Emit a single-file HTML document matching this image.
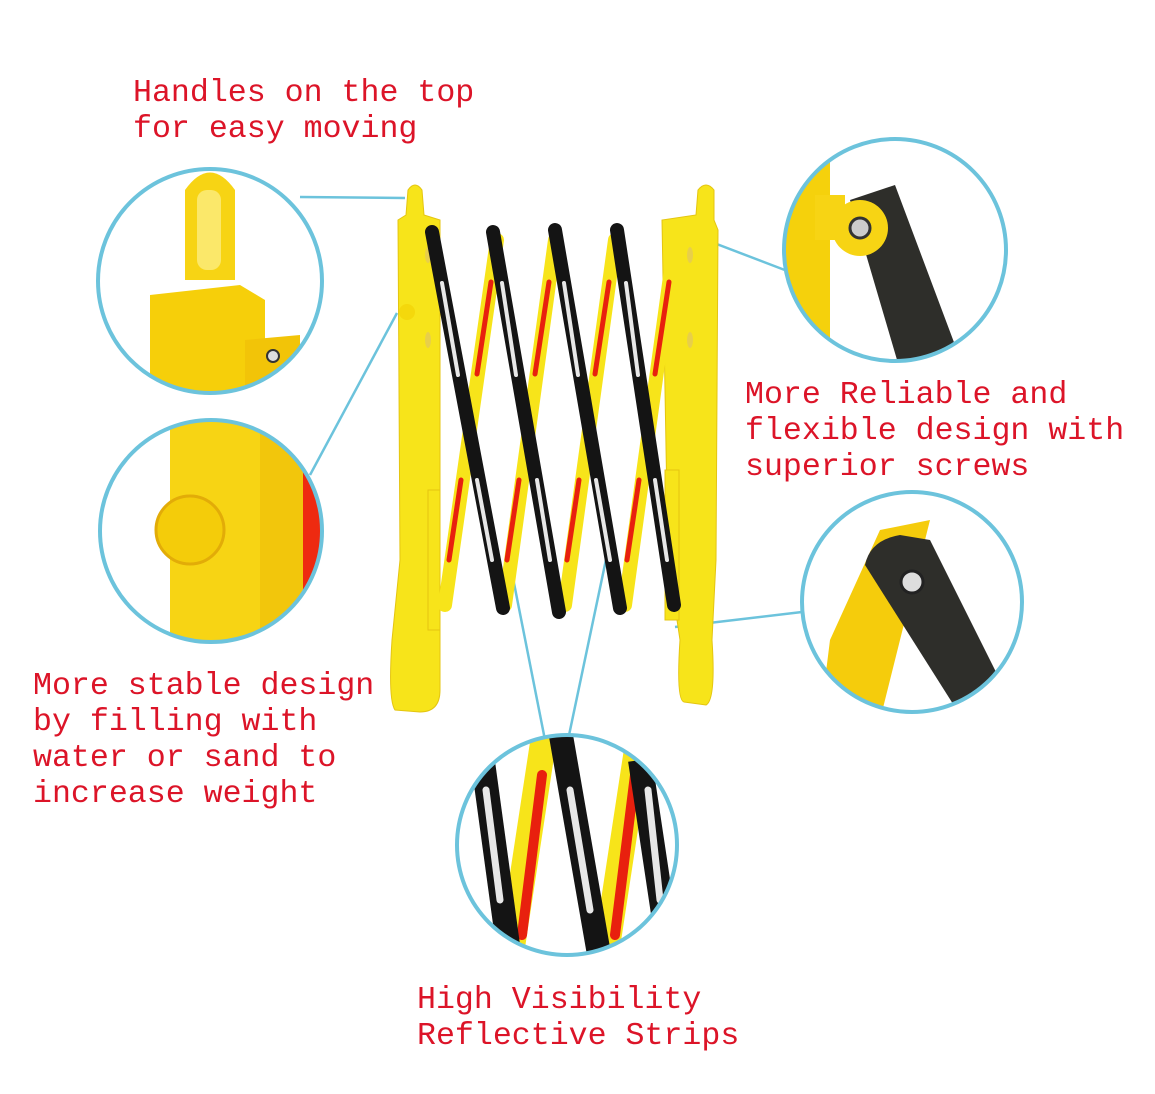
<!DOCTYPE html>
<html><head><meta charset="utf-8"><style>
html,body{margin:0;padding:0;background:#fff}
svg{display:block}
text{font-family:"Liberation Mono","DejaVu Sans Mono",monospace;font-size:31.6px;fill:#dc1428}
</style></head><body>
<svg width="1155" height="1094" viewBox="0 0 1155 1094" xmlns="http://www.w3.org/2000/svg">
<defs>
<clipPath id="c1"><circle cx="210" cy="281" r="112"/></clipPath>
<clipPath id="c2"><circle cx="211" cy="531" r="111"/></clipPath>
<clipPath id="c3"><circle cx="895" cy="250" r="111"/></clipPath>
<clipPath id="c4"><circle cx="912" cy="602" r="110"/></clipPath>
<clipPath id="c5"><circle cx="567" cy="845" r="110"/></clipPath>
</defs>

<text x="133" y="101">Handles on the top</text>
<text x="133" y="137">for easy moving</text>
<text x="745" y="403">More Reliable and</text>
<text x="745" y="439">flexible design with</text>
<text x="745" y="475">superior screws</text>
<text x="33" y="694">More stable design</text>
<text x="33" y="730">by filling with</text>
<text x="33" y="766">water or sand to</text>
<text x="33" y="802">increase weight</text>
<text x="417" y="1008">High Visibility</text>
<text x="417" y="1044">Reflective Strips</text>

<g stroke="#6cc3dc" stroke-width="2.5" fill="none">
<line x1="300" y1="197" x2="405" y2="198"/>
<line x1="310" y1="475" x2="397" y2="313"/>
<line x1="790" y1="272" x2="680" y2="230"/>
<line x1="802" y1="612" x2="675" y2="627"/>
<line x1="545" y1="740" x2="512" y2="573"/>
<line x1="568" y1="740" x2="608" y2="550"/>
</g>

<g fill="#f7e41a" stroke="#e4c510" stroke-width="1">
<path d="M408 190 Q415 180 422 190 L424 215 L440 220 L440 690 Q440 712 420 712 L395 710 Q388 700 392 640 L400 560 L398 220 L406 215 Z"/>
<path d="M698 190 Q706 180 714 190 L714 220 L718 230 L716 560 L712 640 Q716 700 706 705 L684 702 Q676 700 680 640 L668 560 L662 220 L696 215 Z"/>
<rect x="428" y="490" width="12" height="140"/>
<rect x="665" y="470" width="14" height="150"/>
</g>
<circle cx="407" cy="312" r="8" fill="#f4d80c"/>
<g fill="#e8cf4a"><ellipse cx="428" cy="255" rx="3" ry="8"/><ellipse cx="428" cy="340" rx="3" ry="8"/><ellipse cx="690" cy="255" rx="3" ry="8"/><ellipse cx="690" cy="340" rx="3" ry="8"/></g>

<g stroke="#f7e41a" stroke-width="14" stroke-linecap="round">
<line x1="497" y1="240" x2="445" y2="605"/>
<line x1="555" y1="240" x2="505" y2="605"/>
<line x1="615" y1="240" x2="565" y2="605"/>
<line x1="675" y1="240" x2="625" y2="605"/>
</g>
<g stroke="#e8200e" stroke-width="5" stroke-linecap="round">
<line x1="491" y1="282" x2="477" y2="374"/><line x1="461" y1="480" x2="449" y2="560"/>
<line x1="549" y1="282" x2="535" y2="374"/><line x1="519" y1="480" x2="507" y2="560"/>
<line x1="609" y1="282" x2="595" y2="374"/><line x1="579" y1="480" x2="567" y2="560"/>
<line x1="669" y1="282" x2="655" y2="374"/><line x1="639" y1="480" x2="627" y2="560"/>
</g>
<g stroke="#141414" stroke-width="14" stroke-linecap="round">
<line x1="432" y1="232" x2="503" y2="608"/>
<line x1="493" y1="232" x2="559" y2="612"/>
<line x1="555" y1="230" x2="620" y2="608"/>
<line x1="617" y1="230" x2="674" y2="605"/>
</g>
<g stroke="#e8e8e8" stroke-width="4" stroke-linecap="round">
<line x1="442" y1="283" x2="458" y2="375"/><line x1="477" y1="480" x2="492" y2="560"/>
<line x1="502" y1="283" x2="516" y2="375"/><line x1="537" y1="480" x2="550" y2="560"/>
<line x1="564" y1="283" x2="578" y2="375"/><line x1="596" y1="480" x2="610" y2="560"/>
<line x1="626" y1="283" x2="638" y2="375"/><line x1="655" y1="480" x2="667" y2="560"/>
</g>

<g clip-path="url(#c1)">
<circle cx="210" cy="281" r="112" fill="#fff"/>
<path d="M185 280 L185 190 Q210 155 235 190 L235 280 Z" fill="#f7d414"/>
<rect x="197" y="190" width="24" height="80" rx="10" fill="#fbe86a"/>
<path d="M150 295 L240 285 L265 300 L265 400 L150 400 Z" fill="#f6cf0a"/>
<path d="M245 340 L300 335 L300 400 L245 400 Z" fill="#f2c408"/>
<circle cx="273" cy="356" r="6" fill="#ddd" stroke="#333" stroke-width="2"/>
</g>
<circle cx="210" cy="281" r="112" fill="none" stroke="#6cc3dc" stroke-width="4"/>

<g clip-path="url(#c2)">
<circle cx="211" cy="531" r="111" fill="#fff"/>
<rect x="170" y="410" width="140" height="240" fill="#f7d414"/>
<rect x="260" y="410" width="45" height="240" fill="#f2c60c"/>
<rect x="303" y="410" width="30" height="240" fill="#ee2a10"/>
<circle cx="190" cy="530" r="34" fill="#f4cc0a" stroke="#e2ac08" stroke-width="3"/>
</g>
<circle cx="211" cy="531" r="111" fill="none" stroke="#6cc3dc" stroke-width="4"/>

<g clip-path="url(#c3)">
<circle cx="895" cy="250" r="111" fill="#fff"/>
<rect x="780" y="140" width="50" height="240" fill="#f5d10c"/>
<path d="M850 200 L895 185 L955 345 L900 370 Z" fill="#2e2e2a"/>
<circle cx="860" cy="228" r="28" fill="#f7d414"/>
<rect x="815" y="195" width="30" height="45" fill="#f7d414"/>
<circle cx="860" cy="228" r="10" fill="#ccc" stroke="#333" stroke-width="3"/>
</g>
<circle cx="895" cy="250" r="111" fill="none" stroke="#6cc3dc" stroke-width="4"/>

<g clip-path="url(#c4)">
<circle cx="912" cy="602" r="110" fill="#fff"/>
<path d="M880 530 L930 520 L880 720 L820 720 L830 640 Z" fill="#f5cc0c"/>
<path d="M865 565 Q870 540 900 535 L930 540 L1005 690 L960 715 Z" fill="#2e2e2a"/>
<circle cx="912" cy="582" r="11" fill="#ddd" stroke="#222" stroke-width="3"/>
</g>
<circle cx="912" cy="602" r="110" fill="none" stroke="#6cc3dc" stroke-width="4"/>

<g clip-path="url(#c5)">
<circle cx="567" cy="845" r="110" fill="#fff"/>
<g stroke="#f7e41a" stroke-width="26">
<line x1="545" y1="730" x2="510" y2="960"/><line x1="640" y1="730" x2="605" y2="960"/>
</g>
<g stroke="#e8200e" stroke-width="10" stroke-linecap="round">
<line x1="542" y1="775" x2="522" y2="935"/><line x1="635" y1="775" x2="615" y2="935"/>
</g>
<g stroke="#141414" stroke-width="24">
<line x1="480" y1="740" x2="510" y2="960"/><line x1="560" y1="730" x2="600" y2="960"/><line x1="640" y1="760" x2="670" y2="960"/>
</g>
<g stroke="#e8e8e8" stroke-width="7" stroke-linecap="round">
<line x1="486" y1="790" x2="500" y2="900"/><line x1="570" y1="790" x2="590" y2="910"/><line x1="648" y1="790" x2="660" y2="900"/>
</g>
</g>
<circle cx="567" cy="845" r="110" fill="none" stroke="#6cc3dc" stroke-width="4"/>
</svg>
</body></html>
